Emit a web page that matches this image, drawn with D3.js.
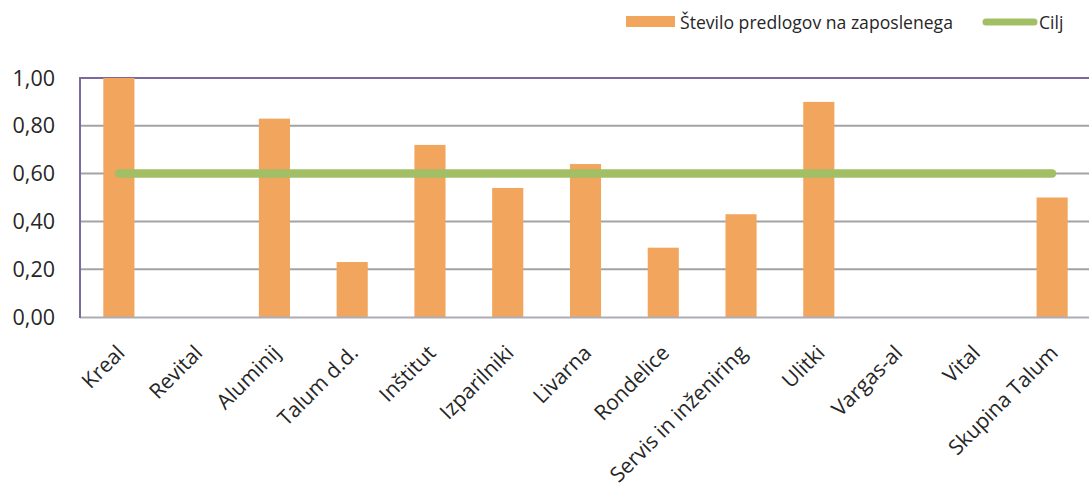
<!DOCTYPE html>
<html lang="sl">
  <head>
    <meta charset="UTF-8" />
    <title>Število predlogov na zaposlenega</title>
    <script src="https://d3js.org/d3.v7.min.js"></script>
    <style>
      body {
        margin: 0;
        background: #fff;
      }
      text {
        font-family: 'Open Sans', Lato, sans-serif;
        fill: #262626;
      }
    </style>
  </head>
  <body>
    <div id="chart"></div>
    <script>
      // podatki
      const categories = [
        'Kreal', 'Revital', 'Aluminij', 'Talum d.d.', 'Inštitut', 'Izparilniki',
        'Livarna', 'Rondelice', 'Servis in inženiring', 'Ulitki', 'Vargas-al',
        'Vital', 'Skupina Talum'
      ];
      const values = [1.0, 0, 0.83, 0.23, 0.72, 0.54, 0.64, 0.29, 0.43, 0.9, 0, 0, 0.5];
      const target = 0.6;
      const yTicks = [0, 0.2, 0.4, 0.6, 0.8, 1.0];
      const seriesNames = ['Število predlogov na zaposlenega', 'Cilj'];

      const width = 1089;
      const height = 483;
      const margin = { top: 78, right: -2, bottom: 166, left: 80 };
      const w = width - margin.left - margin.right;
      const h = height - margin.top - margin.bottom;

      const svg = d3
        .select('#chart')
        .append('svg')
        .attr('width', width)
        .attr('height', height);

      const g = svg
        .append('g')
        .attr('transform', `translate(${margin.left},${margin.top})`);

      const x = d3.scaleBand().domain(categories).range([0, w]).paddingInner(0.6).paddingOuter(0.3);
      const xc = d3.scalePoint().domain(categories).range([0, w]).padding(0.5);
      const y = d3.scaleLinear().domain([0, 1]).range([h, 0]);

      // mreža
      g.append('g')
        .selectAll('line')
        .data(yTicks.filter((d) => d > 0 && d < 1))
        .join('line')
        .attr('x1', 0)
        .attr('x2', w)
        .attr('y1', (d) => y(d))
        .attr('y2', (d) => y(d))
        .attr('stroke', '#a3a3a3')
        .attr('stroke-width', 2);

      // zgornja črta
      g.append('line')
        .attr('x1', 0)
        .attr('x2', w)
        .attr('y1', y(1))
        .attr('y2', y(1))
        .attr('stroke', '#7d6a9c')
        .attr('stroke-width', 2);

      // stolpci
      g.append('g')
        .selectAll('rect')
        .data(values)
        .join('rect')
        .attr('x', (d, i) => xc(categories[i]) - x.bandwidth() / 2)
        .attr('y', (d) => y(d))
        .attr('width', x.bandwidth())
        .attr('height', (d) => h - y(d))
        .attr('fill', '#f2a55c');

      // os x
      g.append('line')
        .attr('x1', 0)
        .attr('x2', w)
        .attr('y1', h + 0.5)
        .attr('y2', h + 0.5)
        .attr('stroke', '#adadb5')
        .attr('stroke-width', 2);

      // os y
      g.append('line')
        .attr('x1', 0)
        .attr('x2', 0)
        .attr('y1', y(1) - 1)
        .attr('y2', h + 1)
        .attr('stroke', '#7d6a9c')
        .attr('stroke-width', 2);

      // cilj
      const line = d3
        .line()
        .x((d) => xc(d))
        .y(() => y(target));
      g.append('path')
        .attr('d', line(categories))
        .attr('fill', 'none')
        .attr('stroke', '#a3bf66')
        .attr('stroke-width', 8.5)
        .attr('stroke-linecap', 'round');

      // oznake y
      g.append('g')
        .selectAll('text')
        .data(yTicks)
        .join('text')
        .attr('x', -25)
        .attr('y', (d) => y(d))
        .attr('dy', '0.35em')
        .attr('text-anchor', 'end')
        .style('font-size', '21.5px')
        .text((d) => d3.format('.2f')(d).replace('.', ','));

      // oznake x
      g.append('g')
        .selectAll('text')
        .data(categories)
        .join('text')
        .attr('transform', (d) => `translate(${xc(d) + 2},${h + 32}) rotate(-45)`)
        .attr('text-anchor', 'end')
        .attr('dy', '0.35em')
        .style('font-size', '21px')
        .text((d) => d);

      // legenda
      const legend = svg.append('g');
      legend
        .append('rect')
        .attr('x', 626)
        .attr('y', 16)
        .attr('width', 49)
        .attr('height', 11)
        .attr('fill', '#f2a55c');
      legend
        .append('text')
        .attr('x', 680)
        .attr('y', 28.5)
        .style('font-size', '17.6px')
        .text(seriesNames[0]);
      legend
        .append('line')
        .attr('x1', 986)
        .attr('x2', 1034)
        .attr('y1', 22)
        .attr('y2', 22)
        .attr('stroke', '#a3bf66')
        .attr('stroke-width', 7)
        .attr('stroke-linecap', 'round');
      legend
        .append('text')
        .attr('x', 1039)
        .attr('y', 28.5)
        .style('font-size', '17.6px')
        .text(seriesNames[1]);
    </script>
  </body>
</html>
